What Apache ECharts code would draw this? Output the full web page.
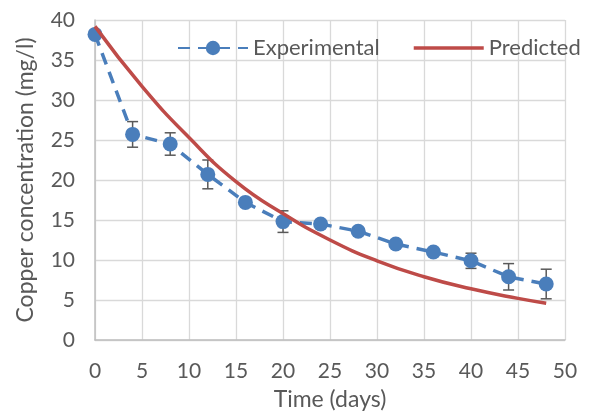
<!DOCTYPE html>
<html>
<head>
<meta charset="utf-8">
<script src="https://cdn.jsdelivr.net/npm/echarts@6/dist/echarts.min.js"></script>
<style>
  html, body { margin: 0; padding: 0; background: #fff; }
  #main { width: 591px; height: 418px; }
</style>
</head>
<body>
<div id="main"></div>
<script>
// 实验数据
var expDays = [0, 4, 8, 12, 16, 20, 24, 28, 32, 36, 40, 44, 48];
var expValues = [38.2, 25.7, 24.5, 20.7, 17.2, 14.8, 14.5, 13.6, 12.0, 11.0, 9.9, 7.9, 7.0];
var expErrors = [0.3, 1.6, 1.4, 1.8, 0.4, 1.35, 0.4, 0.4, 0.4, 0.4, 0.95, 1.65, 1.85];
// 预测曲线
var predDays = [0, 5, 10, 15, 20, 25, 30, 35, 40, 45, 48];
var predValues = [39.2, 31.7, 25.3, 19.8, 15.8, 12.5, 9.9, 7.9, 6.4, 5.2, 4.6];

var FONT = 'Lato';
var TEXT = '#595959';

var myChart = echarts.init(document.getElementById('main'));

var expData = expDays.map(function (d, i) { return [d, expValues[i]]; });
var errData = expDays.map(function (d, i) { return [d, expValues[i] - expErrors[i], expValues[i] + expErrors[i]]; });
var predData = predDays.map(function (d, i) { return [d, predValues[i]]; });

var option = {
    animation: false,
    textStyle: {fontFamily: FONT},
    grid: {left: 95, right: 26, top: 20, bottom: 78},
    legend: {
        top: 37,
        left: 177,
        width: 414,
        padding: 0,
        itemWidth: 70,
        itemHeight: 18,
        itemGap: 34,
        textStyle: {color: TEXT, fontSize: 22, fontFamily: FONT},
        data: [
            {name: 'Experimental'},
            //图例只画红线
            {name: 'Predicted', icon: 'path://M0,0L70,0L70,3.5L0,3.5Z'}
        ]
    },
    xAxis: {
        type: 'value',
        min: 0,
        max: 50,
        interval: 5,
        name: 'Time (days)',
        nameLocation: 'middle',
        nameGap: 48,
        nameTextStyle: {color: TEXT, fontSize: 23, fontFamily: FONT},
        axisLine: {show: true, lineStyle: {color: '#BFBFBF', width: 1.5}},
        axisTick: {show: false},
        axisLabel: {color: TEXT, fontSize: 21, margin: 21, fontFamily: FONT},
        splitLine: {lineStyle: {color: '#D9D9D9', width: 1.3}}
    },
    yAxis: {
        type: 'value',
        min: 0,
        max: 40,
        interval: 5,
        name: 'Copper concentration (mg/l)',
        nameLocation: 'middle',
        nameGap: 58,
        nameTextStyle: {color: TEXT, fontSize: 23, fontFamily: FONT},
        axisLine: {show: true, lineStyle: {color: '#BFBFBF', width: 1.5}},
        axisTick: {show: false},
        axisLabel: {color: TEXT, fontSize: 21, margin: 20, fontFamily: FONT},
        splitLine: {lineStyle: {color: '#D9D9D9', width: 1.3}}
    },
    series: [
        {
            name: 'Experimental',
            type: 'line',
            data: expData,
            symbol: 'circle',
            symbolSize: 15,
            itemStyle: {color: '#4A7EBB'},
            lineStyle: {color: '#4A7EBB', width: 3.5, type: [12, 8]},
            z: 3
        },
        {
            // 误差线
            name: 'error',
            type: 'custom',
            data: errData,
            renderItem: function (params, api) {
                var x = api.value(0);
                var lo = api.coord([x, api.value(1)]);
                var hi = api.coord([x, api.value(2)]);
                var half = 5.5;
                var style = {stroke: '#595959', lineWidth: 1.5};
                return {
                    type: 'group',
                    children: [
                        {type: 'line', shape: {x1: lo[0], y1: lo[1], x2: hi[0], y2: hi[1]}, style: style},
                        {type: 'line', shape: {x1: lo[0] - half, y1: lo[1], x2: lo[0] + half, y2: lo[1]}, style: style},
                        {type: 'line', shape: {x1: hi[0] - half, y1: hi[1], x2: hi[0] + half, y2: hi[1]}, style: style}
                    ]
                };
            },
            z: 2
        },
        {
            name: 'Predicted',
            type: 'line',
            data: predData,
            smooth: true,
            showSymbol: false,
            symbol: 'none',
            itemStyle: {color: '#BE4B48'},
            lineStyle: {color: '#BE4B48', width: 3.5},
            z: 4
        }
    ]
};

myChart.setOption(option);
</script>
</body>
</html>
